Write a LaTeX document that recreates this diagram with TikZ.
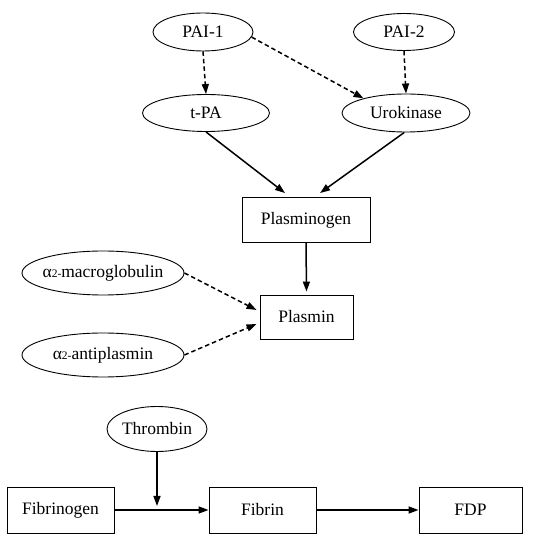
\documentclass[tikz,border=0pt]{standalone}
\usepackage{fontspec}
\setmainfont{Liberation Serif}
\usetikzlibrary{shapes.geometric,arrows.meta}

\begin{document}
\begin{tikzpicture}[
  x=1pt, y=-1pt,
  font=\fontsize{17.5}{20}\selectfont,
  enz/.style  = {draw=black, ellipse, line width=0.9pt, inner sep=0pt},
  subst/.style = {draw=black, rectangle, line width=0.9pt, inner sep=0pt},
  arr/.style  = {-{Triangle[length=10pt,width=7pt]}, line width=1.5pt},
  inh/.style  = {arr, dash pattern=on 4.5pt off 3pt},
]
\useasboundingbox (0,0) rectangle (544,534);

% activators and inhibitors
\node[enz, minimum width=100pt, minimum height=38pt] (pai1) at (203,32) {PAI-1};
\node[enz, minimum width=101pt, minimum height=37pt] (pai2) at (404,32) {PAI-2};
\node[enz, minimum width=127pt, minimum height=37pt] (tpa)  at (206,113) {t-PA};
\node[enz, minimum width=128pt, minimum height=38pt] (urok) at (406,113) {Urokinase};

\node[subst, minimum width=128pt, minimum height=45pt] (pgn) at (306,220) {Plasminogen};
\node[subst, minimum width=93pt, minimum height=44pt] (pls) at (306.5,317) {Plasmin};

\node[enz, inner xsep=-7pt, minimum width=162pt, minimum height=44pt] (a2m) at (103,273)
  {α{\fontsize{11.5}{12}\selectfont 2-}macroglobulin};
\node[enz, inner xsep=-7pt, minimum width=162pt, minimum height=44pt] (a2ap) at (103,355)
  {α{\fontsize{11.5}{12}\selectfont 2-}antiplasmin};

% fibrin line
\node[enz, minimum width=100pt, minimum height=45pt] (thr) at (157,429) {Thrombin};
\node[subst, minimum width=107pt, minimum height=46pt] (fbg) at (60.5,510) {Fibrinogen};
\node[subst, minimum width=107pt, minimum height=46pt] (fbn) at (262.5,510) {Fibrin};
\node[subst, minimum width=103pt, minimum height=46pt] (fdp) at (470.5,510) {FDP};
\coordinate (join) at (157,506);

\draw[inh] (pai1.south) -- (tpa.north);
\draw[inh] (pai1.-6) -- (urok.161);
\draw[inh] (pai2.south) -- (urok.north);
\draw[arr] (tpa.south) -- ([xshift=-21pt, yshift=4pt]pgn.north);
\draw[arr] (urok.265) -- ([xshift=14pt, yshift=4pt]pgn.north);
\draw[arr] (pgn.south) -- ([yshift=3pt]pls.north);
\draw[inh] (a2m.east) -- ([xshift=-3pt, yshift=7pt]pls.west);
\draw[inh] (a2ap.east) -- ([xshift=-3pt, yshift=-7pt]pls.west);

\draw[arr] (thr.south) -- (join);
\draw[arr] (fbg.east) -- (fbn.west);
\draw[arr] (fbn.east) -- (fdp.west);

\end{tikzpicture}
\end{document}
